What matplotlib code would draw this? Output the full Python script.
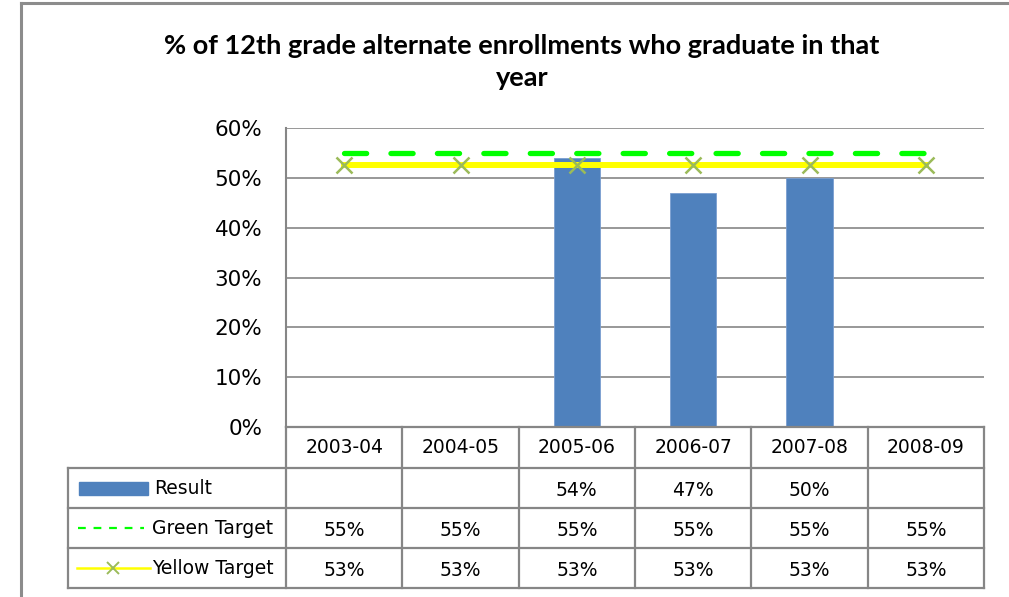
import matplotlib
matplotlib.use("Agg")
import matplotlib.pyplot as plt
from matplotlib.lines import Line2D
from matplotlib.patches import Rectangle

categories = ["2003-04", "2004-05", "2005-06", "2006-07", "2007-08", "2008-09"]
result = [None, None, 54, 47, 50, None]
green_target = [55, 55, 55, 55, 55, 55]
yellow_target = [52.5, 52.5, 52.5, 52.5, 52.5, 52.5]
result_labels = ["", "", "54%", "47%", "50%", ""]
green_labels = ["55%"] * 6
yellow_labels = ["53%"] * 6
yticks = [0, 10, 20, 30, 40, 50, 60]
title = "% of 12th grade alternate enrollments who graduate in that\nyear"

plt.rcParams['font.family'] = ['DejaVu Sans']

W, H = 1009, 597
fig = plt.figure(figsize=(W / 100, H / 100), dpi=100)

def fx(px):
    return px / W

def fy(py):
    return 1 - py / H

GRID = "#868686"
BLUE = "#4F81BD"

# plot area
left, right, top, bottom = 286, 984, 128, 427
ax = fig.add_axes([fx(left), fy(bottom), fx(right - left), fy(top) - fy(bottom)])
x = list(range(len(categories)))
bx = [i for i, v in zip(x, result) if v is not None]
bv = [v for v in result if v is not None]
ax.bar(bx, bv, width=0.4, color=BLUE, edgecolor="#7A9ED0", linewidth=0.6, zorder=2)
ax.plot(x, yellow_target, color="#FFFF00", lw=4.3, zorder=3)
ax.plot(x, yellow_target, ls="none", marker="x", ms=11, mew=1.8, color="#9BBB59", zorder=4)
ax.plot(x, green_target, color="#00FF00", lw=3.8, dashes=(4.2, 4.6), dash_capstyle="round", zorder=4)
ax.set_xlim(-0.5, 5.5)
ax.set_ylim(0, 60)
ax.set_yticks(yticks)
ax.set_yticklabels([f"{t}%" for t in yticks], fontsize=15.5)
ax.tick_params(axis="y", length=0, pad=17)
ax.set_xticks([])
ax.yaxis.grid(True, color=GRID, lw=1.2)
ax.set_axisbelow(True)
for s in ["top", "right", "bottom"]:
    ax.spines[s].set_visible(False)
ax.spines["left"].set_color(GRID)
ax.spines["left"].set_linewidth(1.5)

# chart border
fig.add_artist(Line2D([fx(21), fx(21)], [fy(3), fy(597)], color="#8C8C8C", lw=2.2, transform=fig.transFigure))
fig.add_artist(Line2D([fx(21), fx(1009)], [fy(3), fy(3)], color="#8C8C8C", lw=2.2, transform=fig.transFigure))

fig.text(fx(522), fy(62), title, ha="center", va="center", fontsize=19.5,
         fontweight="bold", linespacing=1.45, family=["Lato", "DejaVu Sans"])

# data table
col_w = (right - left) / 6
cols = [left + i * col_w for i in range(7)]
rows = [427, 468, 508, 548, 588]
tleft = 68
lw_t = 1.6

def hline(y, x0, x1):
    fig.add_artist(Line2D([fx(x0), fx(x1)], [fy(y), fy(y)], color=GRID, lw=lw_t, transform=fig.transFigure))

def vline(xp, y0, y1):
    fig.add_artist(Line2D([fx(xp), fx(xp)], [fy(y0), fy(y1)], color=GRID, lw=lw_t, transform=fig.transFigure))

hline(rows[0], left, right)
for r in rows[1:]:
    hline(r, tleft, right)
for c in cols:
    vline(c, rows[0], rows[-1])
vline(tleft, rows[1], rows[-1])

fs = 13.5
for i, c in enumerate(categories):
    cx = left + (i + 0.5) * col_w
    fig.text(fx(cx), fy((rows[0] + rows[1]) / 2), c, ha="center", va="center", fontsize=fs)
    for j, labs in enumerate([result_labels, green_labels, yellow_labels]):
        cy = (rows[j + 1] + rows[j + 2]) / 2 + 2
        fig.text(fx(cx), fy(cy), labs[i], ha="center", va="center", fontsize=fs)

# legend keys in table
ry = (rows[1] + rows[2]) / 2
fig.add_artist(Rectangle((fx(79), fy(ry + 6.5)), fx(69), fy(ry - 6.5) - fy(ry + 6.5), color=BLUE, transform=fig.transFigure))
fig.text(fx(154), fy(ry), "Result", ha="left", va="center", fontsize=fs)
gy = (rows[2] + rows[3]) / 2
fig.add_artist(Line2D([fx(78), fx(144)], [fy(gy), fy(gy)], color="#00FF00", lw=1.6, dashes=(3.5, 3.5), transform=fig.transFigure))
fig.text(fx(152), fy(gy), "Green Target", ha="left", va="center", fontsize=fs)
yy = (rows[3] + rows[4]) / 2
fig.add_artist(Line2D([fx(77), fx(150)], [fy(yy), fy(yy)], color="#FFFF00", lw=1.8, transform=fig.transFigure))
fig.add_artist(Line2D([fx(113)], [fy(yy)], ls="none", marker="x", ms=8, mew=1.4, color="#9BBB59", transform=fig.transFigure))
fig.text(fx(152), fy(yy), "Yellow Target", ha="left", va="center", fontsize=fs)

fig.savefig("out.png", dpi=100)
